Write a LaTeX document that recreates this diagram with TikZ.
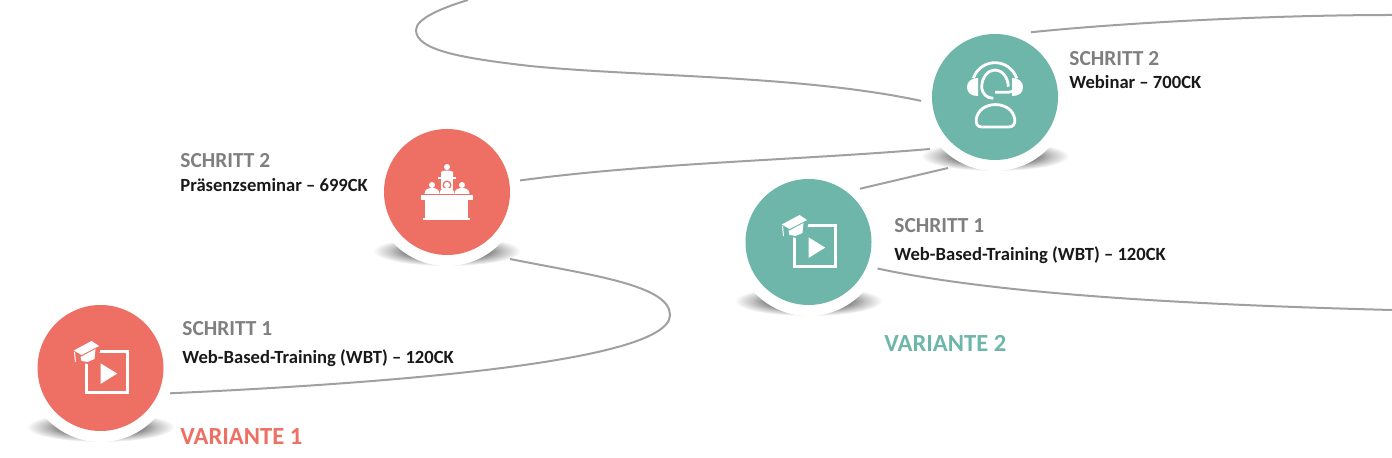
\documentclass[tikz,border=0pt]{standalone}
\usepackage{fontspec}
\setmainfont{Carlito}
\usepackage{xcolor}
\usetikzlibrary{shapes,positioning,calc}

\definecolor{varred}{HTML}{EE6F63}
\definecolor{varteal}{HTML}{6DB6A9}
\definecolor{linegray}{HTML}{A0A0A0}
\definecolor{titlegray}{HTML}{7F7F7F}
\colorlet{varcap}{varred}
\colorlet{shadedark}{black!48}
\colorlet{shademid}{black!24}

\pgfdeclareradialshading{groundshade}{\pgfpoint{0bp}{0bp}}{color(0bp)=(shadedark); color(14bp)=(shadedark); color(19bp)=(shademid); color(25bp)=(white); color(50bp)=(white)}

\tikzset{
  stepdisc/.style={circle, fill=#1, minimum size=63pt, inner sep=0pt, outer sep=5.5pt},
  way/.style={draw=linegray, line width=1pt},
  steptitle/.style={anchor=west, inner sep=0pt, text=titlegray, font=\bfseries\fontsize{10.7}{12}\selectfont},
  stepinfo/.style={anchor=west, inner sep=0pt, text=black!90, font=\bfseries\fontsize{9.3}{11}\selectfont},
  varlabel/.style={anchor=west, inner sep=0pt, text=#1, font=\bfseries\fontsize{12.3}{14}\selectfont},
  wbticon/.pic={
    \draw[white, line width=1.5pt] (-14.2,-16.5) rectangle (26.8,24.8);
    \fill[white] (0,-4.7) -- (16.7,5.6) -- (0,16) -- cycle;
    \fill[varcap] (-30,-18) -- (-9,-31) -- (1,-22) -- (-3,-8) -- (-12,-4) -- (-24,-6) -- cycle;
    \fill[white] (-26.7,-17.5) -- (-9,-27) -- (-1.5,-22) -- (-19,-13) -- cycle;
    \fill[white] (-20,-11) -- (-5,-19) -- (-6,-9) -- (-13,-6) -- (-19,-7) -- cycle;
    \draw[white, line width=0.5pt] (-26,-16) -- (-25,-6);
  },
  seminaricon/.pic={
    % desk
    \fill[white] (-26,3) rectangle (26,8);
    \fill[white] (-22,8) rectangle (21,26);
    \fill[white] (-24,26) rectangle (23,28);
    % speaker
    \fill[white] (0,-25) circle (3);
    \fill[white] (-6,-15) -- (-6,-20) .. controls (-6,-22) and (6,-22) .. (6,-20) -- (6,-15) -- cycle;
    \fill[white] (-9,-15) rectangle (9,-13);
    \fill[white] (-6,-13) rectangle (6,-3);
    % audience
    \fill[varcap] (0,-7) circle (4.5);
    \foreach \x in {-15,0,15} {
      \fill[white] (\x,-7) circle (3);
      \fill[white] (\x-7.5,2) .. controls (\x-7.5,-3) and (\x-3,-4) .. (\x,-4) .. controls (\x+3,-4) and (\x+7.5,-3) .. (\x+7.5,2) -- cycle;
    }
  },
  headseticon/.pic={
    % body
    \draw[white, line width=1.4pt] (-13,30) -- (13.5,30) .. controls (18,30) and (20.5,27) .. (19.7,22) .. controls (18.5,13) and (10,7.6) .. (0.5,7.6) .. controls (-9,7.6) and (-17.5,13) .. (-18.7,22) .. controls (-19.5,27) and (-17.5,30) .. (-13,30) -- cycle;
    % head and band
    \draw[white, line width=1.4pt] (-1.7,1.3) .. controls (-8,1.3) and (-13,-3) .. (-13.3,-10.3) .. controls (-13,-20) and (-7,-27) .. (0,-27) .. controls (7,-27) and (13,-20) .. (13.3,-10.3);
    \draw[white, line width=1.4pt] (-21.7,-18.7) .. controls (-18,-29) and (-9,-34.3) .. (0,-34.3) .. controls (9,-34.3) and (18,-29) .. (21.7,-18.7);
    % ear pieces
    \fill[white] (-17,-19) .. controls (-24,-19) and (-28,-15) .. (-28,-10) .. controls (-28,-4) and (-24,-1) .. (-17,-1) -- cycle;
    \fill[white] (17,-19) .. controls (24,-19) and (28,-15) .. (28,-10) .. controls (28,-4) and (24,-1) .. (17,-1) -- cycle;
    % microphone
    \draw[white, line width=1.4pt] (0,-4.7) -- (13,-4.7) .. controls (16,-4.7) and (18,-5.5) .. (19,-7);
  }
}

\begin{document}
\begin{tikzpicture}[x=0.5pt,y=-0.5pt]
\useasboundingbox (0,0) rectangle (1392,458);

% Shadows below the discs
\foreach \cx/\cy in {100.5/368,447/192,808.5/242,995/97} {
  \shade[shading=groundshade] (\cx,\cy+59) ellipse (74 and 15);
  \fill[white] (\cx,\cy) circle (74);
}

% Steps
\node[stepdisc=varred] (redone) at (100.5,368) {};
\node[stepdisc=varred] (redtwo) at (447,192) {};
\node[stepdisc=varteal] (tealone) at (808.5,242) {};
\node[stepdisc=varteal] (tealtwo) at (995,97) {};

\pic at (redone) {wbticon};
\pic at (redtwo) {seminaricon};
\colorlet{varcap}{varteal}
\pic at (tealone) {wbticon};
\pic at (tealtwo) {headseticon};

% Free ends at the border
\coordinate (topend) at (468,0);
\coordinate (rightlow) at (1392,310);
\coordinate (righttop) at (1392,15);

% Ways
\draw[way] (redone.-20) .. controls (350,385) and (670,365) .. (670,315) .. controls (670,285) and (590,275) .. (510,259);
\draw[way] (redtwo.9) .. controls (650,163) and (800,160) .. (930,149);
\draw[way] (tealtwo.183) .. controls (800,75) and (640,77) .. (530,66) .. controls (460,58) and (416,50) .. (416,30) .. controls (416,18) and (445,7) .. (topend);
\draw[way] (tealone.46) -- (948,168);
\draw[way] (tealone.-21) .. controls (1000,295) and (1200,305) .. (rightlow);
\draw[way] (tealtwo.61) .. controls (1130,22) and (1280,15) .. (righttop);

% Labels
\node[steptitle] (titleone) at (182,328.5) {SCHRITT 1};
\node[stepinfo] (infoone) at (182,358) {Web-Based-Training (WBT) – 120CK};
\node[steptitle] (titletwo) at (180,160.5) {SCHRITT 2};
\node[stepinfo] (infotwo) at (180,185) {Präsenzseminar – 699CK};
\node[steptitle] (titlethree) at (894,225.5) {SCHRITT 1};
\node[stepinfo] (infothree) at (894,255) {Web-Based-Training (WBT) – 120CK};
\node[steptitle] (titlefour) at (1069,58.5) {SCHRITT 2};
\node[stepinfo] (infofour) at (1069,82.5) {Webinar – 700CK};

\node[varlabel=varred] (varone) at (180,437) {VARIANTE 1};
\node[varlabel=varteal] (vartwo) at (884,343) {VARIANTE 2};
\end{tikzpicture}
\end{document}
